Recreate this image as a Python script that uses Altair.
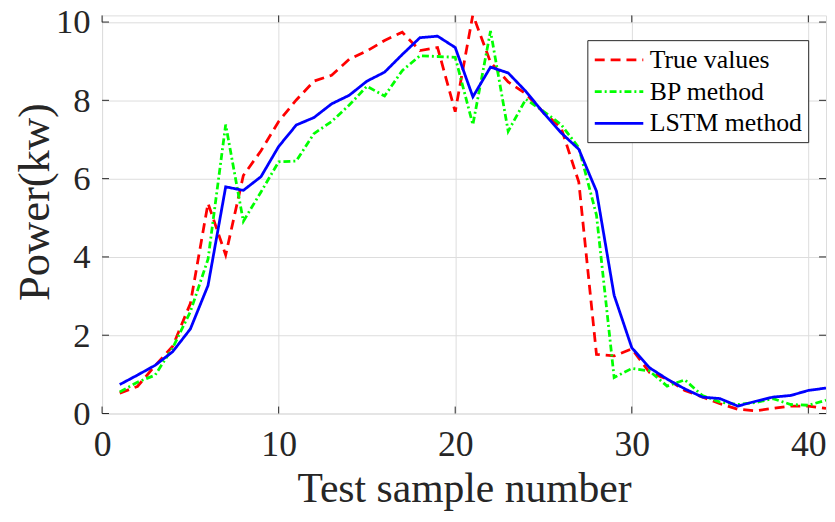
import altair as alt
import pandas as pd

sample = list(range(1, 42))
true_values = [0.52, 0.69, 1.22, 1.72, 2.81, 5.37, 4.05, 6.08, 6.71, 7.46,
               8.01, 8.49, 8.64, 9.05, 9.26, 9.53, 9.74, 9.27, 9.35, 7.71,
               10.19, 8.97, 8.47, 8.17, 7.69, 7.30, 5.91, 1.51, 1.47, 1.65,
               1.05, 0.88, 0.59, 0.42, 0.25, 0.11, 0.07, 0.13, 0.19, 0.19, 0.13]
bp_values = [0.55, 0.80, 0.98, 1.68, 2.60, 3.94, 7.38, 4.91, 5.66, 6.43,
             6.45, 7.15, 7.46, 7.88, 8.36, 8.11, 8.76, 9.14, 9.12, 9.10,
             7.38, 9.77, 7.21, 8.03, 7.72, 7.38, 6.79, 5.07, 0.92, 1.15,
             1.09, 0.70, 0.86, 0.46, 0.29, 0.23, 0.28, 0.38, 0.23, 0.21, 0.34]
lstm_values = [0.74, 0.98, 1.23, 1.58, 2.16, 3.27, 5.79, 5.70, 6.05, 6.82,
               7.37, 7.56, 7.91, 8.13, 8.49, 8.72, 9.17, 9.60, 9.64, 9.35,
               8.09, 8.85, 8.70, 8.23, 7.68, 7.17, 6.75, 5.68, 3.02, 1.68,
               1.17, 0.88, 0.63, 0.42, 0.38, 0.19, 0.31, 0.42, 0.46, 0.59, 0.65]
series_names = ["True values", "BP method", "LSTM method"]
series_colors = ["#ff0000", "#00ff00", "#0000ff"]
series_dash = [[10, 6], [7, 3, 2, 3], [1, 0]]
x_ticks = [0, 10, 20, 30, 40]
y_ticks = [0, 2, 4, 6, 8, 10]

rows = []
for name, vals in zip(series_names, [true_values, bp_values, lstm_values]):
    for s, v in zip(sample, vals):
        rows.append({"x": s, "y": v, "series": name})
df = pd.DataFrame(rows)

FONT = "'Liberation Serif', 'Times New Roman', Times, serif"
TXT = "#262626"
W, H = 731, 402

xscale = alt.Scale(domain=[0, 41], nice=False, zero=False)
yscale = alt.Scale(domain=[0, 10.17], nice=False, zero=False)

xaxis = alt.Axis(values=x_ticks, grid=True, ticks=False, domain=False,
                 labelFont=FONT, labelFontSize=36, labelColor=TXT, labelPadding=14,
                 title="Test sample number", titleFont=FONT, titleFontSize=42,
                 titleFontWeight="normal", titleColor=TXT, titleBaseline="alphabetic",
                 titleY=89, labelFlush=False)
yaxis = alt.Axis(values=y_ticks, grid=True, ticks=False, domain=False,
                 labelFont=FONT, labelFontSize=35, labelColor=TXT, labelPadding=12,
                 title="Power(kw)", titleFont=FONT, titleFontSize=45,
                 titleFontWeight="normal", titleColor=TXT, titleBaseline="alphabetic",
                 titleX=-54, titleY=188, titleAlign="center", labelFlush=False)

legend = alt.Legend(title=None, orient="none", legendX=490, legendY=25,
                    padding=6, strokeColor=TXT, fillColor="white",
                    labelFont=FONT, labelFontSize=26, labelColor="#000000",
                    symbolType="M-2,0H2", symbolSize=600, symbolOffset=12,
                    symbolStrokeWidth=2.7, labelOffset=17, rowPadding=5,
                    cornerRadius=0)
color = alt.Color("series:N", scale=alt.Scale(domain=series_names, range=series_colors),
                  legend=legend)
dash = alt.StrokeDash("series:N", scale=alt.Scale(domain=series_names, range=series_dash),
                      legend=legend)

layers = []
for name in series_names:
    layers.append(
        alt.Chart(df).transform_filter(alt.datum.series == name)
        .mark_line(strokeWidth=2.8, clip=True)
        .encode(x=alt.X("x:Q", scale=xscale, axis=xaxis),
                y=alt.Y("y:Q", scale=yscale, axis=yaxis),
                color=color, strokeDash=dash)
    )

xt = pd.DataFrame({"x": x_ticks})
yt = pd.DataFrame({"y": y_ticks})
tick_bottom = alt.Chart(xt).mark_rule(color=TXT, strokeWidth=1).encode(
    x=alt.X("x:Q", scale=xscale), y=alt.value(H), y2=alt.value(H - 7))
tick_top = alt.Chart(xt).mark_rule(color=TXT, strokeWidth=1).encode(
    x=alt.X("x:Q", scale=xscale), y=alt.value(0), y2=alt.value(7))
tick_left = alt.Chart(yt).mark_rule(color=TXT, strokeWidth=1).encode(
    y=alt.Y("y:Q", scale=yscale), x=alt.value(0), x2=alt.value(7))
tick_right = alt.Chart(yt).mark_rule(color=TXT, strokeWidth=1).encode(
    y=alt.Y("y:Q", scale=yscale), x=alt.value(W - 7), x2=alt.value(W))

chart = alt.layer(tick_bottom, tick_top, tick_left, tick_right, *layers).properties(
    width=W, height=H,
    padding={"left": 95, "top": 5, "right": 1, "bottom": 98},
    autosize=alt.AutoSizeParams(type="none"),
).configure_view(stroke=TXT, strokeWidth=1.5).configure_axis(
    gridColor="#e2e2e2", gridWidth=1
).configure(background="white")

chart.save("out.html", embed_options={"renderer": "svg", "actions": False})
